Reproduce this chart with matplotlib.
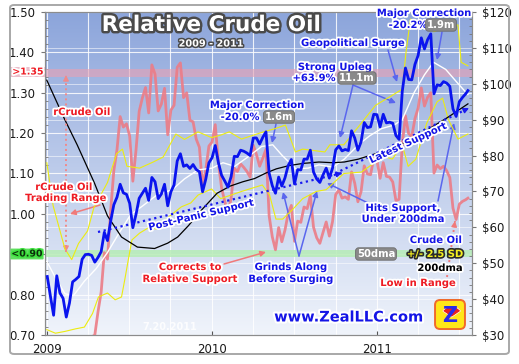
import matplotlib
matplotlib.use('Agg')
import matplotlib.pyplot as plt
import matplotlib.dates as mdates
import matplotlib.patheffects as pe
import matplotlib.transforms as mtransforms
from matplotlib.patches import FancyBboxPatch, Wedge
from matplotlib.lines import Line2D
from matplotlib.ticker import MultipleLocator, FixedLocator
import numpy as np
import pandas as pd

# ---------------- data ----------------
week_dates = list(pd.date_range('2009-01-02', '2011-07-15', freq='W-FRI')) + [pd.Timestamp('2011-07-20')]

crude_price = [
    46.3, 40.8, 35.5, 46.5, 41.7, 40.2, 35.0, 38.9, 44.8, 45.5,
    46.3, 51.1, 52.4, 52.5, 52.2, 50.3, 51.6, 53.2, 58.6, 56.3,
    61.7, 66.3, 68.4, 72.0, 69.6, 69.2, 66.7, 59.9, 63.6, 68.1,
    69.5, 70.9, 67.5, 73.9, 72.7, 68.0, 69.3, 72.0, 66.0, 69.9,
    71.8, 78.5, 80.5, 77.0, 77.4, 76.4, 77.5, 76.1, 75.5, 69.9,
    73.4, 78.0, 79.4,
    82.8, 78.0, 74.5, 72.9, 71.2, 74.1, 79.8, 79.7, 81.5, 81.2,
    80.7, 80.0, 84.9, 84.9, 83.2, 85.1, 86.6, 75.1, 71.6, 69.5,
    74.0, 71.5, 73.8, 77.2, 78.9, 72.1, 76.1, 76.0, 79.0, 79.0,
    81.5, 75.4, 73.5, 72.5, 74.6, 76.5, 73.7, 76.5, 81.6, 82.7,
    81.3, 81.7, 81.4, 86.9, 84.9, 81.5, 83.8, 89.2, 87.8, 88.0,
    91.5, 91.4,
    88.0, 91.5, 89.1, 89.3, 89.0, 85.6, 84.5, 97.9, 104.4, 101.2,
    101.1, 105.4, 107.9, 112.8, 109.7, 112.3, 113.9, 97.2, 99.7, 99.5,
    100.6, 100.2, 99.3, 93.0, 90.9, 95.0, 96.2, 97.2, 98.1]

rcrude = [
    0.46, 0.41, 0.366, 0.488, 0.446, 0.441, 0.394, 0.45, 0.536, 0.56,
    0.585, 0.661, 0.68, 0.69, 0.695, 0.70, 0.757, 0.806, 0.904, 0.888,
    1.008, 1.107, 1.159, 1.241, 1.215, 1.223, 1.193, 1.081, 1.158, 1.254,
    1.287, 1.313, 1.25, 1.369, 1.346, 1.255, 1.272, 1.311, 1.196, 1.257,
    1.269, 1.363, 1.374, 1.288, 1.30, 1.232, 1.228, 1.185, 1.165, 1.067,
    1.109, 1.168, 1.178,
    1.221, 1.126, 1.064, 1.031, 1.003, 1.038, 1.113, 1.105, 1.124, 1.115,
    1.105, 1.091, 1.17, 1.147, 1.118, 1.138, 1.16, 0.995, 0.943, 0.911,
    0.966, 0.931, 0.96, 1.001, 1.021, 0.932, 0.982, 0.979, 1.017, 1.013,
    1.045, 0.967, 0.941, 0.927, 0.954, 0.98, 0.945, 0.981, 1.048, 1.059,
    1.039, 1.042, 1.036, 1.104, 1.076, 1.03, 1.055, 1.119, 1.099, 1.097,
    1.138, 1.133,
    1.088, 1.127, 1.093, 1.091, 1.079, 1.033, 1.036, 1.172, 1.243, 1.199,
    1.192, 1.236, 1.262, 1.312, 1.267, 1.289, 1.30, 1.101, 1.121, 1.112,
    1.118, 1.107, 1.09, 1.014, 0.986, 1.024, 1.031, 1.035, 1.039]

dma200_dates = pd.to_datetime([
    '2009-01-01', '2009-02-09', '2009-03-09', '2009-04-16', '2009-05-15', '2009-06-15',
    '2009-07-20', '2009-08-27', '2009-09-25', '2009-10-17', '2009-11-10', '2009-12-10',
    '2010-01-12', '2010-02-10', '2010-03-10', '2010-04-05', '2010-05-01', '2010-05-23',
    '2010-06-20', '2010-07-20', '2010-08-25', '2010-09-25', '2010-10-20', '2010-11-20',
    '2010-12-20', '2011-01-20', '2011-02-20', '2011-03-20', '2011-04-15', '2011-05-10',
    '2011-06-05', '2011-07-01', '2011-07-20'])
dma200 = [101, 90.2, 83, 72.4, 63.2, 57.3,
          54.5, 54.1, 55.6, 57.3, 60.5, 65,
          69.5, 71.5, 72.7, 73.6, 75.2, 76.3,
          77.2, 77.8, 78.2, 78.0, 78.2, 79.0,
          80.2, 81.4, 83.0, 84.8, 86.6, 88.6,
          90.6, 92.8, 94.4]

dma50_dates = pd.to_datetime([
    '2009-01-01', '2009-01-20', '2009-02-10', '2009-03-01', '2009-03-25', '2009-04-20',
    '2009-05-15', '2009-06-10', '2009-07-05', '2009-08-01', '2009-09-01', '2009-10-05',
    '2009-11-01', '2009-12-01', '2010-01-01', '2010-01-25', '2010-02-20', '2010-03-20',
    '2010-04-20', '2010-05-15', '2010-06-05', '2010-07-05', '2010-08-01', '2010-08-25',
    '2010-09-25', '2010-10-20', '2010-11-20', '2010-12-15', '2011-01-10', '2011-02-07',
    '2011-02-25', '2011-03-23', '2011-04-15', '2011-05-05', '2011-06-01', '2011-06-25',
    '2011-07-20'])
dma50 = [50.5, 46, 41.5, 41, 45, 48.5,
         53, 58.5, 63.5, 66, 69, 70.5,
         73.5, 76, 76.5, 78, 77, 79.5,
         82.5, 83, 80, 76.3, 76.5, 77.4,
         76.8, 79, 83, 85.5, 87.5, 88.5,
         90, 97.5, 102.5, 106, 104, 100.5,
         97]

band_up_dates = pd.to_datetime([
    '2009-01-01', '2009-01-15', '2009-02-10', '2009-02-25', '2009-03-12', '2009-04-01',
    '2009-04-15', '2009-05-15', '2009-06-04', '2009-06-17', '2009-06-27', '2009-07-25',
    '2009-08-24', '2009-09-15', '2009-10-13', '2009-11-01', '2009-12-01', '2009-12-31',
    '2010-01-20', '2010-02-08', '2010-03-07', '2010-04-22', '2010-05-20', '2010-06-12',
    '2010-07-04', '2010-07-20', '2010-09-07', '2010-09-18', '2010-10-19', '2010-11-20',
    '2010-12-28', '2011-02-03', '2011-02-25', '2011-03-05', '2011-03-15', '2011-04-15',
    '2011-05-06', '2011-06-05', '2011-06-28', '2011-07-05', '2011-07-20'])
band_up = [78, 66, 54, 51, 55.5, 59,
           65.5, 72.5, 80.5, 81.8, 77, 76.5,
           78.2, 79.6, 86, 84.5, 86.6, 85,
           85.7, 86.6, 84.6, 86.5, 87.5, 88.5,
           81, 81.8, 81, 83, 83, 88,
           94, 96.8, 98.5, 108.5, 118, 117,
           114.5, 116, 116.4, 106, 105]

band_lo_dates = pd.to_datetime([
    '2009-01-01', '2009-01-20', '2009-02-10', '2009-03-05', '2009-03-25', '2009-04-12',
    '2009-04-25', '2009-05-15', '2009-06-01', '2009-06-15', '2009-06-22', '2009-07-01',
    '2009-07-08', '2009-07-25', '2009-08-15', '2009-09-01', '2009-09-28', '2009-10-25',
    '2009-11-15', '2009-12-01', '2009-12-31', '2010-01-20', '2010-03-07', '2010-04-22',
    '2010-05-08', '2010-05-22', '2010-06-06', '2010-06-28', '2010-07-20', '2010-08-19',
    '2010-09-10', '2010-10-19', '2010-11-27', '2010-12-20', '2011-01-10', '2011-02-03',
    '2011-02-25', '2011-03-10', '2011-03-27', '2011-04-20', '2011-05-13', '2011-05-25',
    '2011-06-07', '2011-06-28', '2011-07-20'])
band_lo = [31.5, 30.5, 31.0, 31.7, 32.2, 36,
           40.6, 41.7, 39.8, 40.6, 45.3, 51.7,
           56.5, 58.4, 60, 59.5, 63, 65.7,
           66.8, 69, 70.7, 68, 70, 71.8,
           69, 62.3, 62.3, 65, 68, 70,
           70.5, 75, 75.4, 77.5, 80, 79,
           83, 77, 79, 89, 95, 96,
           90, 84.6, 86]

left_ticks = [0.70, 0.80, 0.90, 1.00, 1.10, 1.20, 1.30, 1.40, 1.50]
left_labels = ['0.70', '0.80', '', '1.00', '1.10', '1.20', '1.30', '1.40', '1.50']
right_ticks = [30, 40, 50, 60, 70, 80, 90, 100, 110, 120]
year_ticks = pd.to_datetime(['2009-01-01', '2010-01-01', '2011-01-01'])
year_labels = ['2009', '2010', '2011']

# ---------------- figure ----------------
W, H = 519, 364
fig = plt.figure(figsize=(W / 100, H / 100), dpi=100)
fig.patch.set_facecolor('white')


def P(x, y):
    return (x / W, 1 - y / H)


ax = fig.add_axes([45 / W, 1 - 335 / H, 427 / W, 323 / H])
ax2 = ax.twinx()
ax2.set_ylim(30, 120)
ax2.patch.set_visible(False)

# gradient background
grad = np.linspace(0, 1, 256).reshape(-1, 1)
top = np.array([140, 165, 219]) / 255
bot = np.array([240, 244, 251]) / 255
img = top[None, None, :] * (1 - grad[:, :, None]) + bot[None, None, :] * grad[:, :, None]
ax.imshow(img, extent=[0, 1, 0, 1], transform=ax.transAxes, aspect='auto', zorder=0)
ax.set_xlim(pd.Timestamp('2008-12-28'), pd.Timestamp('2011-07-29'))
ax.set_ylim(0.70, 1.50)

# grids
ax.set_yticks(left_ticks)
ax.set_yticklabels(left_labels)
ax.yaxis.set_minor_locator(MultipleLocator(0.02))
ax.xaxis.set_major_locator(FixedLocator(mdates.date2num(year_ticks)))
ax.set_xticklabels(year_labels)
ax.xaxis.set_minor_locator(mdates.MonthLocator(bymonth=[1, 4, 7, 10]))
ax.grid(axis='y', which='major', color='white', lw=0.8, alpha=0.85, zorder=0.5)
ax.grid(axis='x', which='both', color='white', lw=0.8, alpha=0.85, zorder=0.5)
ax.set_axisbelow(True)
trans = mtransforms.blended_transform_factory(ax.transAxes, ax2.transData)
for p in right_ticks[1:-1]:
    ax.plot([0, 1], [p, p], transform=trans, color='white', lw=0.7, alpha=0.55, zorder=0.6)

# bands
ax.axhspan(1.34, 1.36, color='#e4a2b6', alpha=0.65, zorder=1, lw=0)
ax.axhspan(0.893, 0.910, color='#b6ecb6', alpha=0.85, zorder=1, lw=0)

# series
ax.plot(week_dates, rcrude, color='#ec7c86', lw=2.0, alpha=0.9, zorder=3, solid_joinstyle='round')
ax2.plot(band_up_dates, band_up, color='#ecec10', lw=0.8, zorder=2)
ax2.plot(band_lo_dates, band_lo, color='#ecec10', lw=0.8, zorder=2)
ax2.plot(dma50_dates, dma50, color='white', lw=1.0, zorder=3)
ax2.plot(dma200_dates, dma200, color='black', lw=0.9, zorder=4)
ax2.plot(week_dates, crude_price, color='#0a14ee', lw=2.0, zorder=5, solid_joinstyle='round')

ax2.set_yticks(right_ticks)
ax2.set_yticklabels(['$%d' % v for v in right_ticks])
ax2.yaxis.set_minor_locator(MultipleLocator(2))

for a in (ax, ax2):
    for s in a.spines.values():
        s.set_color('#8c8c8c')
        s.set_linewidth(0.8)
ax.tick_params(axis='y', which='major', direction='out', length=3, width=0.8, color='#777',
               labelsize=8.5, labelcolor='#1a1a1a', pad=4)
ax.tick_params(axis='y', which='minor', direction='in', length=2.5, width=0.6, color='#777')
ax.tick_params(axis='x', which='major', direction='in', length=3, width=0.8, color='#555',
               labelsize=8.5, labelcolor='#1a1a1a', pad=6)
ax.tick_params(axis='x', which='minor', length=0)
ax2.tick_params(axis='y', which='major', direction='out', length=3, width=0.8, color='#777',
                labelsize=8.5, labelcolor='#1a1a1a', pad=4)
ax2.tick_params(axis='y', which='minor', direction='in', length=2.5, width=0.6, color='#777')

# ---------------- annotations ----------------
WH = [pe.withStroke(linewidth=2.6, foreground='white')]
BLUE = '#1414e6'
RED = '#ee1c24'
ABLUE = '#5a66ee'
ARED = '#f07a7a'


def txt(x, y, s, color, size=7.2, effects=WH, **kw):
    return fig.text(*P(x, y), s, color=color, fontsize=size, fontweight='bold', ha='center',
                    va='center', path_effects=effects, zorder=10, **kw)


def gbox(x, y, s):
    return fig.text(*P(x, y), s, color='white', fontsize=7.2, fontweight='bold', ha='center',
                    va='center', zorder=10,
                    bbox=dict(boxstyle='round,pad=0.12,rounding_size=0.3', fc='#8a8a8a', ec='#6a6a6a', lw=0.6))


def arrow(x1, y1, x2, y2, color=ABLUE, lw=1.1, ls='-'):
    ax.annotate('', xy=P(x2, y2), xytext=P(x1, y1), xycoords='figure fraction',
                textcoords='figure fraction', annotation_clip=False,
                arrowprops=dict(arrowstyle='-|>', color=color, lw=lw, mutation_scale=8,
                                shrinkA=0, shrinkB=0, linestyle=ls), zorder=9)


def dotted(x1, y1, x2, y2, color, lw=1.6, head_end=True, head_start=False):
    fig.add_artist(Line2D([x1 / W, x2 / W], [1 - y1 / H, 1 - y2 / H], transform=fig.transFigure,
                          color=color, lw=lw, ls=(0, (1, 1.6)), zorder=8))
    d = np.hypot(x2 - x1, y2 - y1)
    ux, uy = (x2 - x1) / d, (y2 - y1) / d
    if head_end:
        arrow(x2 - ux * 6, y2 - uy * 6, x2, y2, color=color, lw=1.0)
    if head_start:
        arrow(x1 + ux * 6, y1 + uy * 6, x1, y1, color=color, lw=1.0)


# title
fig.text(*P(211, 25), 'Relative Crude Oil', color='white', fontsize=15.5, fontweight='bold',
         ha='center', va='center', zorder=10,
         path_effects=[pe.withStroke(linewidth=3.5, foreground='#4a4a4a')])
fig.text(*P(211, 43.5), '2009 - 2011', color='white', fontsize=7, fontweight='bold',
         ha='center', va='center', zorder=10,
         path_effects=[pe.withStroke(linewidth=2.2, foreground='#4a4a4a')])

# left side range markers
dotted(66, 252, 66, 75, '#f08a8a', lw=1.4, head_end=True, head_start=True)
txt(82, 112, 'rCrude Oil', RED)
txt(64, 187, 'rCrude Oil', RED)
txt(66, 198, 'Trading Range', RED)
arrow(100, 205, 70, 214, color=ARED)
fig.text(*P(28, 72), '>1.35', color=RED, fontsize=6.8, fontweight='bold', ha='center', va='center',
         zorder=10, path_effects=WH,
         bbox=dict(boxstyle='square,pad=0.1', fc='#e8b0c0', ec='none', alpha=0.8))
fig.text(*P(27, 254), '<0.90', color='#0a300a', fontsize=6.8, fontweight='bold', ha='center',
         va='center', zorder=10,
         path_effects=[pe.withStroke(linewidth=2.2, foreground='#3ee03e')],
         bbox=dict(boxstyle='round,pad=0.1', fc='#60e060', ec='none'))

# support lines
dotted(98, 232, 342, 173, '#1a1af0')
txt(201, 215, 'Post-Panic Support', BLUE, rotation=13.5)
dotted(330, 176, 469, 108, '#1a1af0')
txt(408, 143, 'Latest Support', BLUE, rotation=25)

# correction / upleg annotations
txt(257, 105, 'Major Correction', BLUE)
txt(240, 117, '-20.0%', BLUE)
gbox(279, 117, '1.6m')
arrow(276, 124, 272, 143)

txt(335, 67, 'Strong Upleg', BLUE)
txt(314, 78, '+63.9%', BLUE)
gbox(357, 78, '11.1m')
arrow(353, 85, 340, 138)
arrow(353, 85, 396, 103)

txt(353, 43, 'Geopolitical Surge', BLUE)
arrow(388, 50, 397, 82)

txt(424, 13, 'Major Correction', BLUE)
txt(408, 25, '-20.2%', BLUE)
gbox(441, 25, '1.9m')
arrow(442, 32, 437, 60)

txt(403, 208, 'Hits Support,', BLUE)
txt(403, 219, 'Under 200dma', BLUE)
arrow(368, 203, 327, 183)
arrow(438, 201, 454, 123)

txt(190, 267, 'Corrects to', RED)
txt(190, 279, 'Relative Support', RED)
arrow(224, 264, 266, 252, color=ARED)

txt(291, 267, 'Grinds Along', BLUE)
txt(291, 279, 'Before Surging', BLUE)
arrow(299, 256, 283, 192)
arrow(299, 256, 317, 191)

# legend block
txt(436, 240, 'Crude Oil', BLUE)
gbox(376, 254, '50dma')
txt(435, 254, '+/- 2.5 SD', '#f4f020', effects=[pe.withStroke(linewidth=2.4, foreground='#2a2a2a')])
txt(440, 268, '200dma', 'black')
txt(418, 283, 'Low in Range', RED)
dotted(447, 277, 455, 221, '#f07a7a', lw=1.4)

# footer
txt(349, 317, 'www.ZealLLC.com', BLUE, size=10.5,
    effects=[pe.withStroke(linewidth=3, foreground='white')])
fig.text(*P(170, 327), '7.20.2011', color='white', fontsize=7, fontweight='bold', ha='center',
         va='center', alpha=0.85, zorder=10)

# logo
lax = fig.add_axes([433 / W, 1 - 331 / H, 34 / W, 33 / H])
lax.set_xlim(0, 1)
lax.set_ylim(0, 1)
lax.axis('off')
lax.add_patch(FancyBboxPatch((0.06, 0.06), 0.88, 0.88, boxstyle='round,pad=0,rounding_size=0.15',
                             fc='#ffe619', ec='#f06a2a', lw=1.4))
lax.text(0.5, 0.45, 'Z', color='#2a2ae8', fontsize=15, fontweight='bold', ha='center', va='center')
lax.add_patch(Wedge((0.55, 0.42), 0.32, 35, 145, fc='#e82020', ec='white', lw=0.5))

# outer frame
fig.add_artist(FancyBboxPatch((10 / W, 1 - 354 / H), 499 / W, 349 / H,
                              boxstyle='round,pad=0,rounding_size=0.008', transform=fig.transFigure,
                              fill=False, ec='#a8a8a8', lw=1.4))

fig.savefig('out.png', dpi=100, facecolor='white')
